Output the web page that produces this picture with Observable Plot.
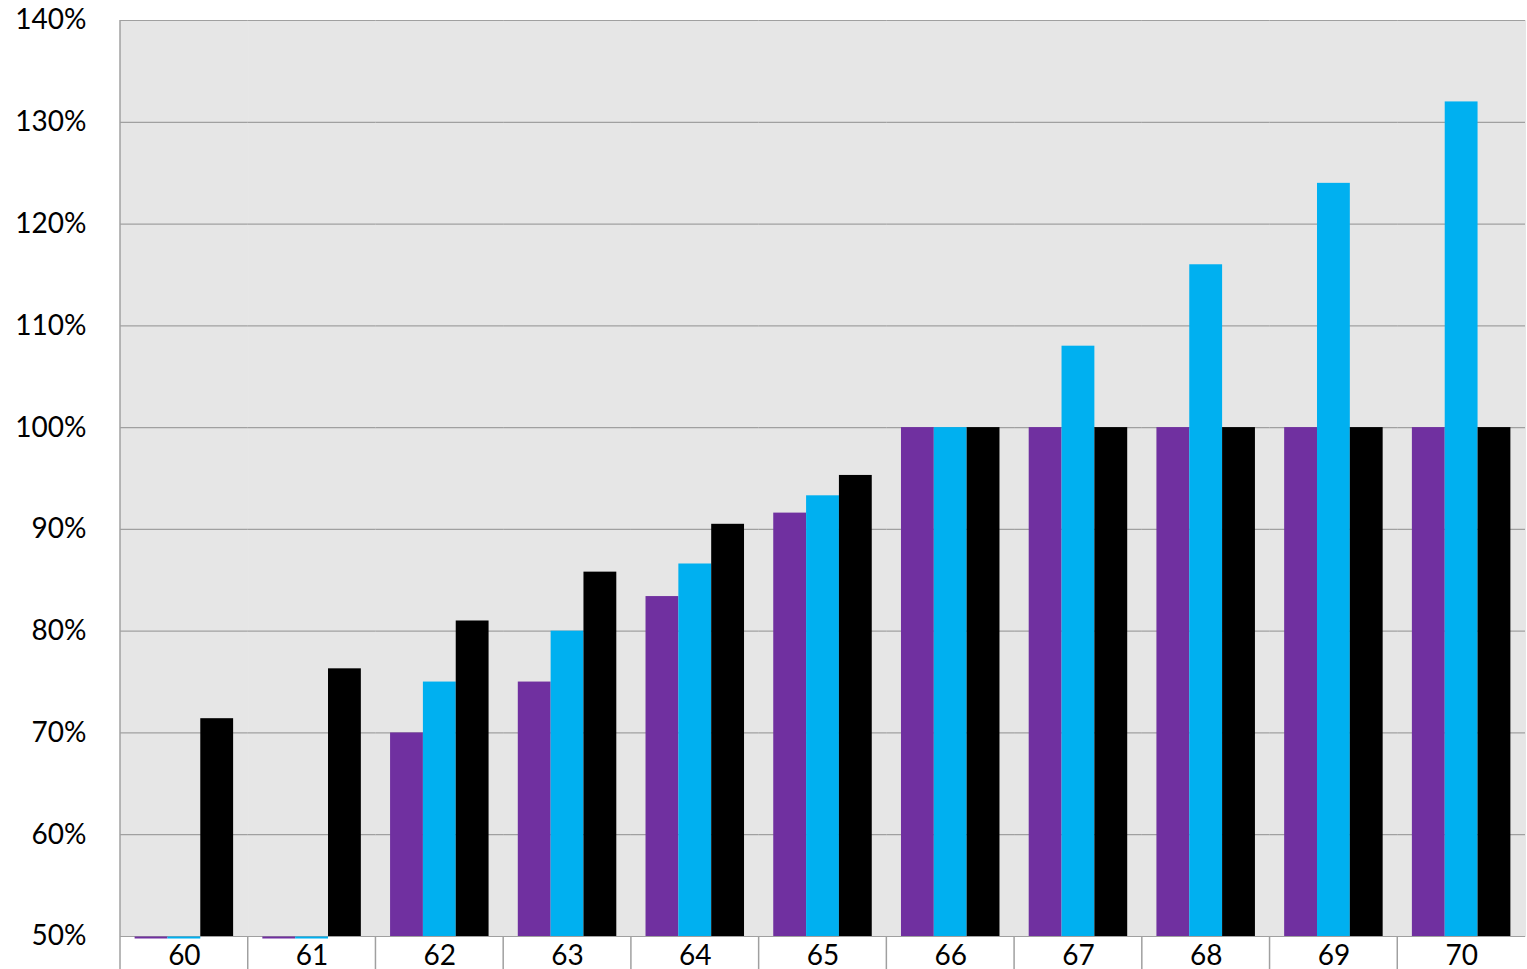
<!DOCTYPE html>
<html>
<head>
<meta charset="utf-8">
<script src="https://cdn.jsdelivr.net/npm/d3@7"></script>
<script src="https://cdn.jsdelivr.net/npm/@observablehq/plot@0.6"></script>
<style>
  html, body { margin: 0; padding: 0; background: #ffffff; }
  #chart { width: 1527px; height: 969px; overflow: hidden; }
</style>
</head>
<body>
<div id="chart"></div>
<script>
// ---- Data ----
const categories = ["60", "61", "62", "63", "64", "65", "66", "67", "68", "69", "70"];
const seriesNames = ["Series 1", "Series 2", "Series 3"];
const seriesColors = ["#7030A0", "#00B0F0", "#000000"];
const series1 = [50, 50, 70, 75, 83.4, 91.6, 100, 100, 100, 100, 100];
const series2 = [50, 50, 75, 80, 86.6, 93.3, 100, 108, 116, 124, 132];
const series3 = [71.4, 76.3, 81, 85.8, 90.5, 95.3, 100, 100, 100, 100, 100];
const yTicks = [50, 60, 70, 80, 90, 100, 110, 120, 130, 140];

const allSeries = [series1, series2, series3];
const data = [];
categories.forEach((c, i) => {
  seriesNames.forEach((s, j) => {
    data.push({ category: c, series: s, value: allSeries[j][i] });
  });
});

const W = 1527, H = 969;
const mL = 120, mR = 2, mT = 20, mB = 33;
const gridColor = "#A0A0A0";
const bg = "#E6E6E6";

const plot = Plot.plot({
  width: W,
  height: H,
  marginLeft: mL,
  marginRight: mR,
  marginTop: mT,
  marginBottom: mB,
  style: { fontFamily: "Lato, 'Open Sans', sans-serif", fontSize: "28px", color: "#000", background: "transparent" },
  fx: { domain: categories, padding: 0, round: false, label: null, tickSize: 0, tickPadding: 9 },
  x: { domain: seriesNames, paddingInner: 0, paddingOuter: 0.445, round: false, axis: null },
  y: { domain: [50, 140], ticks: yTicks, tickFormat: d => d + "%", tickSize: 0, tickPadding: 34, label: null },
  color: { domain: seriesNames, range: seriesColors },
  marks: [
    Plot.frame({ fill: bg, stroke: bg, strokeWidth: 1 }),
    Plot.ruleY(yTicks, { stroke: gridColor, strokeWidth: 1.2 }),
    Plot.barY(data, { fx: "category", x: "series", y1: 50, y2: "value", fill: "series" }),
    Plot.tickY(data.filter(d => d.value <= 50), { fx: "category", x: "series", y: "value", stroke: "series", strokeWidth: 2, dy: 1 })
  ]
});

// Category separators below the plot, placed from the library's fx scale
const fx = plot.scale("fx");
const svg = d3.select(plot);
const bottom = H - mB;
categories.forEach((c, i) => {
  const x0 = fx.apply(c);
  svg.append("line")
    .attr("x1", x0).attr("x2", x0)
    .attr("y1", i === 0 ? mT : bottom).attr("y2", H)
    .attr("stroke", gridColor).attr("stroke-width", 1.5);
});

document.getElementById("chart").appendChild(plot);
</script>
</body>
</html>
